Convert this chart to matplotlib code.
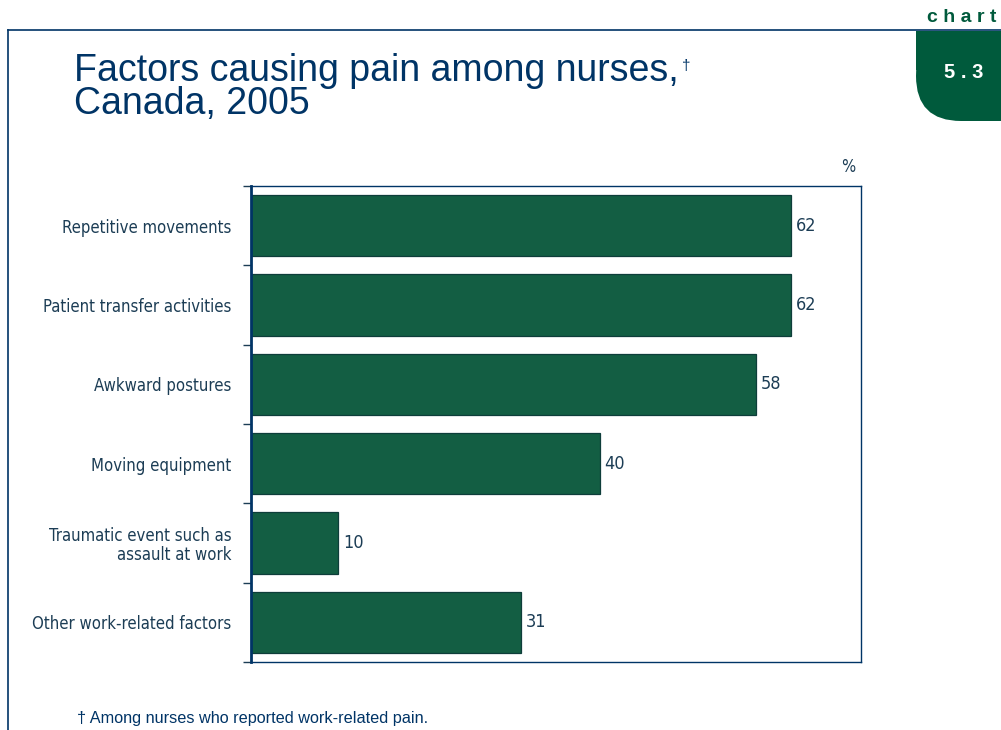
import numpy as np
import matplotlib
import matplotlib.pyplot as plt
from matplotlib.patches import FancyBboxPatch, Rectangle
from matplotlib.lines import Line2D

factors = [
    "Repetitive movements",
    "Patient transfer activities",
    "Awkward postures",
    "Moving equipment",
    "Traumatic event such as\nassault at work",
    "Other work-related factors",
]
percent = [62, 62, 58, 40, 10, 31]

green = "#135e43"
tab_green = "#005a3c"
navy = "#003466"
ink = "#1c3d55"

plain = ["Liberation Sans", "DejaVu Sans"]
narrow = dict(family="DejaVu Sans", stretch="condensed")

fig = plt.figure(figsize=(10.01, 7.30), dpi=100)
W, H = 1001, 730


def fx(px):
    return px / W


def fy(py):
    return 1 - py / H


# page frame and chart tab
fig.add_artist(Line2D([fx(8), 1], [fy(30), fy(30)], color=navy, lw=1.2))
fig.add_artist(Line2D([fx(8), fx(8)], [fy(30), 0], color=navy, lw=1.2))
fig.add_artist(FancyBboxPatch((fx(916), fy(121)), fx(140), fy(31) - fy(121),
                              boxstyle="round,pad=0,rounding_size=0.045",
                              mutation_aspect=W / H,
                              fc=tab_green, ec="none", clip_on=False))
fig.add_artist(Rectangle((fx(916), fy(70)), fx(90), fy(31) - fy(70),
                         fc=tab_green, ec="none"))
fig.text(fx(996), fy(17), "c h a r t", ha="right", va="center",
         fontsize=14, fontweight="bold", color=tab_green, family=plain)
fig.text(fx(964), fy(73), "5 . 3", ha="center", va="center",
         fontsize=14.5, fontweight="bold", color="white", family=plain)

title = fig.text(fx(74), fy(81), "Factors causing pain among nurses,",
                 ha="left", va="baseline", fontsize=27, color=navy, family=plain)
fig.text(fx(74), fy(114), "Canada, 2005",
         ha="left", va="baseline", fontsize=27, color=navy, family=plain)

ax = fig.add_axes([fx(251), fy(662), fx(861) - fx(251), fy(186) - fy(662)])
ax.annotate("\u2020", xy=(1, 1), xycoords=title, xytext=(2, -4),
            textcoords="offset points", ha="left", va="top",
            fontsize=11, color=navy, family=plain, annotation_clip=False)

y = np.arange(len(factors))
ax.barh(y, percent, height=0.77, color=green, edgecolor="#0e3d3a", lw=0.9)
ax.set_xlim(0, 70)
ax.set_ylim(len(factors) - 0.5, -0.5)

for yi, v in zip(y, percent):
    ax.text(v + 0.55, yi, f"{v}", va="center", ha="left",
            fontsize=13, color=ink, **narrow)

# category boundary ticks, labels centred on the bars
ax.set_yticks(np.arange(len(factors) + 1) - 0.5)
ax.set_yticklabels([])
ax.tick_params(axis="y", length=6, width=1, color=ink)
ax.set_yticks(y, minor=True)
ax.set_yticklabels(factors, minor=True, fontsize=12, color=ink,
                   ha="right", linespacing=1.05, **narrow)
ax.tick_params(axis="y", which="minor", length=0, pad=14)
ax.set_xticks([])
for s in ax.spines.values():
    s.set_color(navy)
    s.set_linewidth(1)
ax.spines["left"].set_linewidth(2)

ax.text(69.4, -0.62, "%", ha="right", va="bottom", fontsize=12, color=ink,
        **narrow)

fig.text(fx(77), fy(719), "\u2020 Among nurses who reported work-related pain.",
         ha="left", va="center", fontsize=11.7, color=navy, family=plain)

fig.savefig("out.png", dpi=100)
